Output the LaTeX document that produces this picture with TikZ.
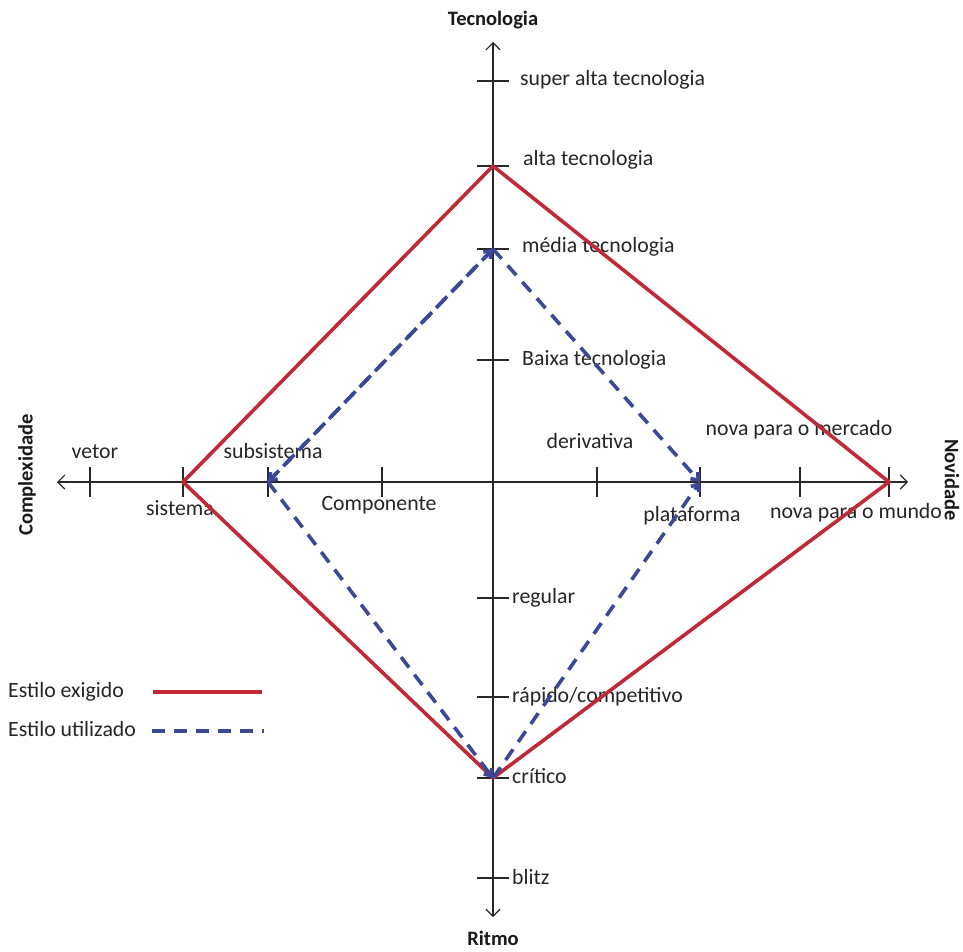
\documentclass[tikz,border=0pt]{standalone}
\usepackage{fontspec}
\setmainfont{Carlito}
\usetikzlibrary{arrows.meta}
\definecolor{reqred}{RGB}{192,42,54}
\definecolor{usedblue}{RGB}{60,72,150}
\definecolor{axisgray}{RGB}{40,40,40}
\begin{document}
\begin{tikzpicture}[x=1pt,y=-1pt,
  axis/.style={draw=axisgray,line width=1.1pt,-{Straight Barb[length=7pt,width=14pt]}},
  tickmark/.style={draw=axisgray,line width=1.1pt},
  lbl/.style={font=\fontsize{21.8}{24}\selectfont,text=black!85,inner sep=0pt},
  ttl/.style={font=\fontsize{20.5}{23}\selectfont\bfseries,text=black!90,inner sep=0pt},
  required/.style={draw=reqred,line width=3.6pt,line join=round},
  used/.style={draw=usedblue,line width=3.6pt,dash pattern=on 13pt off 9pt,
    -{Straight Barb[length=6pt,width=10pt]}}]
\useasboundingbox[fill=white] (0,0) rectangle (963,952);

% axes
\coordinate (O) at (493,482);
\coordinate (top) at (493,42);
\coordinate (bottom) at (493,917);
\coordinate (left) at (57,482);
\coordinate (right) at (908,482);
\draw[axis] (O) -- (top);
\draw[axis] (O) -- (bottom);
\draw[axis] (O) -- (left);
\draw[axis] (O) -- (right);

% ticks on the vertical axis
\foreach \y in {81,166,249,360,598,697,778,878}
  \draw[tickmark] (477,\y) -- (509,\y);
% ticks on the horizontal axis
\foreach \x in {90,183,268,382,597,700,800,889}
  \draw[tickmark] (\x,467) -- (\x,497);

% axis titles
\node[ttl] (tTec) at (493,20) {Tecnologia};
\node[ttl] (tRit) at (493,938) {Ritmo};
\node[ttl,rotate=90] (tCom) at (27,475) {Complexidade};
\node[ttl,rotate=-90] (tNov) at (952,480) {Novidade};

% vertical axis labels
\node[lbl,anchor=west] (l1) at (520,80) {super alta tecnologia};
\node[lbl,anchor=west] (l2) at (523,160) {alta tecnologia};
\node[lbl,anchor=west] (l3) at (522,247) {média tecnologia};
\node[lbl,anchor=west] (l4) at (522,360) {Baixa tecnologia};
\node[lbl,anchor=west] (l5) at (512,598) {regular};
\node[lbl,anchor=west] (l6) at (512,697) {rápido/competitivo};
\node[lbl,anchor=west] (l7) at (512,776) {crítico};
\node[lbl,anchor=west] (l8) at (512,877) {blitz};

% horizontal axis labels
\node[lbl] (h1) at (95,452) {vetor};
\node[lbl] (h2) at (273,451) {subsistema};
\node[lbl] (h3) at (180,508) {sistema};
\node[lbl] (h4) at (379,505) {Componente};
\node[lbl] (h5) at (590,441) {derivativa};
\node[lbl] (h6) at (799,430) {nova para o mercado};
\node[lbl] (h7) at (692,516) {plataforma};
\node[lbl] (h8) at (856,513) {nova para o mundo};

% required style (solid)
\coordinate (rT) at (493,166);
\coordinate (rR) at (889,482);
\coordinate (rB) at (493,778);
\coordinate (rL) at (183,482);
\draw[required] (rT) -- (rR) -- (rB) -- (rL) -- cycle;

% style in use (dashed)
\coordinate (bT) at (493,249);
\coordinate (bR) at (700,482);
\coordinate (bB) at (493,778);
\coordinate (bL) at (268,482);
\draw[used] (bT) -- (bR);
\draw[used] (bB) -- (bR);
\draw[used] (bL) -- (bB);
\draw[used] (bT) -- (bL);
\draw[used] (bL) -- (bT);

% legend
\node[lbl,anchor=west] (leg1) at (8,692) {Estilo exigido};
\node[lbl,anchor=west] (leg2) at (8,729) {Estilo utilizado};
\coordinate (leg1a) at (153,692);
\coordinate (leg1b) at (262,692);
\coordinate (leg2a) at (152,731);
\coordinate (leg2b) at (264,731);
\draw[required] (leg1a) -- (leg1b);
\draw[draw=usedblue,line width=3.6pt,dash pattern=on 13pt off 9pt] (leg2a) -- (leg2b);
\end{tikzpicture}
\end{document}
